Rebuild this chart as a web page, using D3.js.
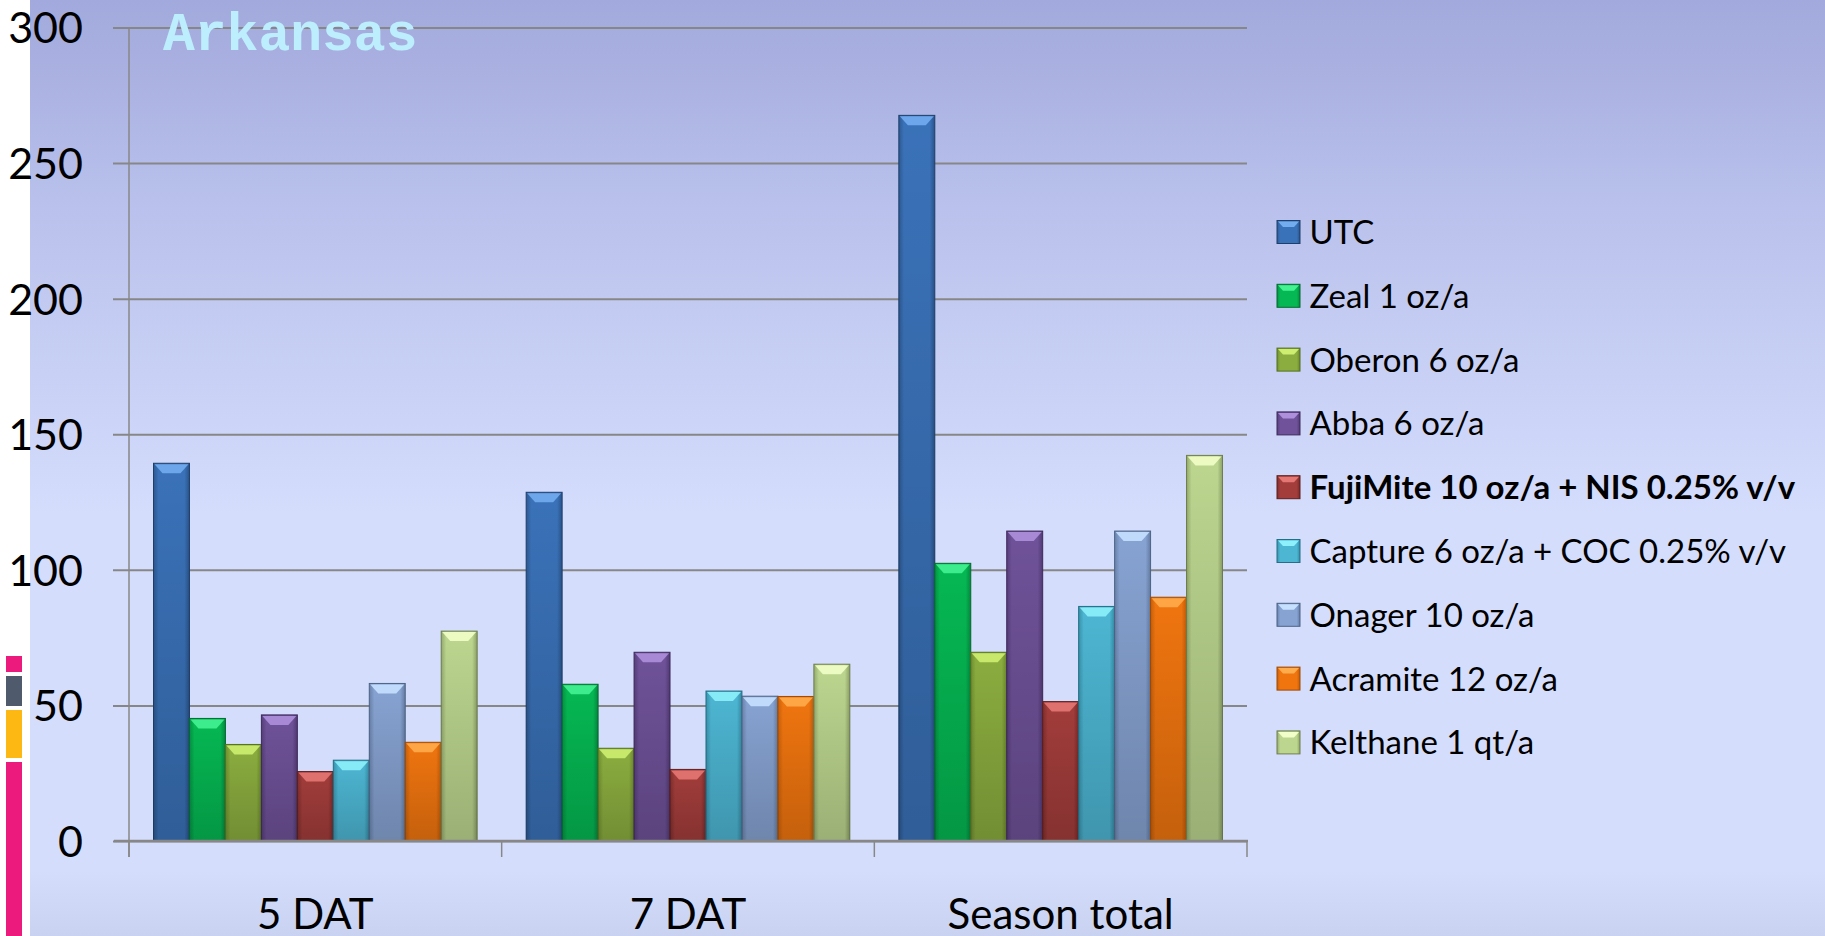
<!DOCTYPE html>
<meta charset="utf-8">
<head>
<title>Arkansas</title>
<style>
  body { margin: 0; background: #fff; }
  svg { display: block; }
  .tick text { font-family: Lato, "Open Sans", sans-serif; fill: #000; }
</style>
</head>
<body>
<script src="https://cdn.jsdelivr.net/npm/d3@7/dist/d3.min.js"></script>
<script>

// data
var categories = ["5 DAT", "7 DAT", "Season total"];
var seriesNames = ["UTC", "Zeal 1 oz/a", "Oberon 6 oz/a", "Abba 6 oz/a",
  "FujiMite 10 oz/a + NIS 0.25% v/v", "Capture 6 oz/a + COC 0.25% v/v",
  "Onager 10 oz/a", "Acramite 12 oz/a", "Kelthane 1 qt/a"];
var values5DAT   = [139.3, 45.2, 35.6, 46.5, 25.6, 29.8, 58.1, 36.4, 77.4];
var values7DAT   = [128.6, 57.8, 34.2, 69.6, 26.4, 55.3, 53.4, 53.3, 65.2];
var valuesSeason = [267.6, 102.4, 69.6, 114.3, 51.4, 86.5, 114.3, 89.9, 142.2];
var yTicks = [0, 50, 100, 150, 200, 250, 300];

var baseColors  = ["#3a72b9", "#05b853", "#8bad3f", "#6f5299", "#a23d3b", "#4db6d3", "#87a3d2", "#f0750f", "#bcd68f"];
var topColors   = ["#73acef", "#44f292", "#cdee70", "#ad8fdc", "#e47774", "#8ef0fb", "#c6e0ff", "#ffac4d", "#f2ffc8"];
var edgeColors  = ["#1f3f6b", "#036b30", "#55701f", "#3f2a5c", "#5e1e1d", "#246f85", "#4d6385", "#a04a05", "#6e7f4c"];

var table = [values5DAT, values7DAT, valuesSeason];

var W = 1825, H = 936;
var plot = {left: 129, right: 1247, top: 27.5, bottom: 841};

var svg = d3.select("body").append("svg")
  .attr("width", W).attr("height", H);

var defs = svg.append("defs");

var bg = defs.append("linearGradient").attr("id", "bg")
  .attr("x1", 0).attr("y1", 0).attr("x2", 0).attr("y2", 1);
[[0, "#a2a9dc"], [0.25, "#bcc4ee"], [0.55, "#d4ddfc"], [0.93, "#d4defc"], [1, "#c9d3f1"]]
  .forEach(function(s) { bg.append("stop").attr("offset", s[0]).attr("stop-color", s[1]); });

// bar gradients: darker at the sides
baseColors.forEach(function(c, i) {
  var g = defs.append("linearGradient").attr("id", "bar" + i)
    .attr("x1", 0).attr("y1", 0).attr("x2", 1).attr("y2", 0);
  g.append("stop").attr("offset", 0).attr("stop-color", d3.interpolateRgb(c, edgeColors[i])(0.5));
  g.append("stop").attr("offset", 0.14).attr("stop-color", c);
  g.append("stop").attr("offset", 0.86).attr("stop-color", c);
  g.append("stop").attr("offset", 1).attr("stop-color", d3.interpolateRgb(c, edgeColors[i])(0.6));
});
var shade = defs.append("linearGradient").attr("id", "shade")
  .attr("x1", 0).attr("y1", 0).attr("x2", 0).attr("y2", 1);
shade.append("stop").attr("offset", 0).attr("stop-color", "#000").attr("stop-opacity", 0);
shade.append("stop").attr("offset", 1).attr("stop-color", "#000").attr("stop-opacity", 0.18);

svg.append("rect").attr("x", 30).attr("y", 0).attr("width", W - 30).attr("height", H)
  .attr("fill", "url(#bg)");

// decorative strip on the left edge
var strip = [[656, 672, "#ec1a7c"], [676, 706, "#4f5a6c"], [710, 758, "#fdb813"], [762, 936, "#ec1a7c"]];
svg.selectAll("rect.strip").data(strip).enter().append("rect")
  .attr("class", "strip")
  .attr("x", 6).attr("width", 16)
  .attr("y", function(d) { return d[0]; })
  .attr("height", function(d) { return d[1] - d[0]; })
  .attr("fill", function(d) { return d[2]; });

var x0 = d3.scaleBand().domain(categories).range([plot.left, plot.right]);
var x1 = d3.scaleBand().domain(d3.range(seriesNames.length))
  .range([24.5, x0.bandwidth() - 24.5]);
var y = d3.scaleLinear().domain([0, 300]).range([plot.bottom, plot.top]);

// gridlines + value axis labels
var yAxis = d3.axisLeft(y).tickValues(yTicks)
  .tickSize(-(plot.right - plot.left)).tickPadding(46).tickSizeOuter(0);
var yg = svg.append("g").attr("transform", "translate(" + plot.left + ",0)").call(yAxis);
yg.select(".domain").remove();
yg.selectAll(".tick line").attr("stroke", "#878787").attr("stroke-width", 2)
  .attr("x1", -16);
yg.selectAll(".tick text").style("font-size", "43px").attr("dy", "0.36em");

// vertical value axis line
svg.append("line")
  .attr("x1", plot.left).attr("x2", plot.left)
  .attr("y1", y(300)).attr("y2", plot.bottom + 16)
  .attr("stroke", "#878787").attr("stroke-width", 1.5);

// bars
var groups = svg.selectAll("g.cat").data(table).enter().append("g")
  .attr("class", "cat")
  .attr("transform", function(d, i) { return "translate(" + x0(categories[i]) + ",0)"; });

var bars = groups.selectAll("g.bar")
  .data(function(d) { return d.map(function(v, i) { return {v: v, i: i}; }); })
  .enter().append("g").attr("class", "bar");

var bw = x1.bandwidth();
bars.append("rect")
  .attr("x", function(d) { return x1(d.i); })
  .attr("y", function(d) { return y(d.v); })
  .attr("width", bw)
  .attr("height", function(d) { return y(0) - y(d.v); })
  .attr("fill", function(d) { return "url(#bar" + d.i + ")"; })
  .attr("stroke", function(d) { return edgeColors[d.i]; })
  .attr("stroke-width", 1);
bars.append("rect")
  .attr("x", function(d) { return x1(d.i); })
  .attr("y", function(d) { return y(d.v); })
  .attr("width", bw)
  .attr("height", function(d) { return y(0) - y(d.v); })
  .attr("fill", "url(#shade)");
// top bevel
bars.append("path")
  .attr("d", function(d) {
    var xa = x1(d.i) + 1, xb = x1(d.i) + bw - 1, yt = y(d.v) + 1;
    return "M" + xa + "," + yt + "L" + xb + "," + yt +
      "L" + (xb - 8) + "," + (yt + 9) + "L" + (xa + 8) + "," + (yt + 9) + "Z";
  })
  .attr("fill", function(d) { return topColors[d.i]; })
  .attr("opacity", 0.9);

// category axis
var xAxis = d3.axisBottom(x0).tickSize(0).tickPadding(58);
var xg = svg.append("g").attr("transform", "translate(0," + plot.bottom + ")").call(xAxis);
xg.select(".domain").remove();
xg.selectAll(".tick text").style("font-size", "42px");
svg.append("line")
  .attr("x1", 114).attr("x2", plot.right + 1)
  .attr("y1", plot.bottom).attr("y2", plot.bottom)
  .attr("stroke", "#878787").attr("stroke-width", 2.5);
var bounds = categories.map(function(c) { return x0(c); }).concat([plot.right]);
svg.selectAll("line.ctick").data(bounds).enter().append("line")
  .attr("class", "ctick")
  .attr("x1", function(d) { return d; }).attr("x2", function(d) { return d; })
  .attr("y1", plot.bottom).attr("y2", plot.bottom + 16)
  .attr("stroke", "#878787").attr("stroke-width", 1.5);

// title
svg.append("text")
  .attr("x", 163).attr("y", 50)
  .style("font-family", "'Liberation Mono', 'Courier New', monospace")
  .style("font-weight", "bold")
  .style("font-size", "53px")
  .attr("fill", "#bdeefd")
  .text("Arkansas");

// legend
var legend = svg.selectAll("g.legend").data(seriesNames).enter().append("g")
  .attr("class", "legend")
  .attr("transform", function(d, i) { return "translate(1277," + (232 + i * 63.8) + ")"; });
legend.append("rect")
  .attr("x", 0).attr("y", -11.5).attr("width", 23).attr("height", 23)
  .attr("fill", function(d, i) { return "url(#bar" + i + ")"; })
  .attr("stroke", function(d, i) { return edgeColors[i]; });
legend.append("path")
  .attr("d", "M1,-10.5L22,-10.5L17,-5L6,-5Z")
  .attr("fill", function(d, i) { return topColors[i]; });
legend.append("text")
  .attr("x", 32.5).attr("y", 12)
  .style("font-family", "Lato, 'Open Sans', sans-serif")
  .style("font-size", "33px")
  .style("font-weight", function(d, i) { return i === 4 ? "bold" : "normal"; })
  .text(function(d) { return d; });

</script>
</body>
